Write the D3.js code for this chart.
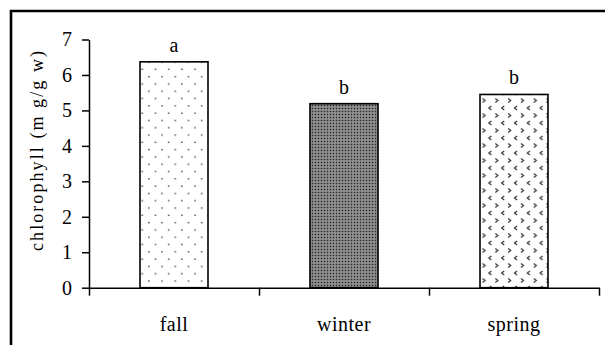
<!DOCTYPE html>
<html>
<head>
    <meta charset="utf-8">
    <script src="https://d3js.org/d3.v7.min.js"></script>
    <style>
        body { margin: 0; background: #fff; }
        svg text { font-family: 'Liberation Serif', 'Times New Roman', Times, 'DejaVu Serif', serif; fill: #000; }
    </style>
</head>
<body>
    <svg id="chart"></svg>
    <script>
        // data
        const seasons = ["fall", "winter", "spring"];
        const chlorophyll = [6.37, 5.19, 5.45];
        const groups = ["a", "b", "b"];
        const yTicks = [0, 1, 2, 3, 4, 5, 6, 7];

        const serif = "'Liberation Serif', 'Times New Roman', Times, 'DejaVu Serif', serif";

        const svg = d3.select('#chart')
            .attr('width', 605)
            .attr('height', 345);

        // patterns for the three bars
        const defs = svg.append('defs');

        const dots = defs.append('pattern')
            .attr('id', 'dots')
            .attr('patternUnits', 'userSpaceOnUse')
            .attr('width', 13.2).attr('height', 14.6);
        dots.append('rect').attr('width', 13.2).attr('height', 14.6).attr('fill', '#fff');
        dots.append('rect').attr('x', 3).attr('y', 3).attr('width', 1.3).attr('height', 1.3).attr('fill', '#222');
        dots.append('rect').attr('x', 9.6).attr('y', 10.3).attr('width', 1.3).attr('height', 1.3).attr('fill', '#222');

        const grey = defs.append('pattern')
            .attr('id', 'grey')
            .attr('patternUnits', 'userSpaceOnUse')
            .attr('width', 3).attr('height', 3);
        grey.append('rect').attr('width', 3).attr('height', 3).attr('fill', '#7a7a7a');
        grey.append('rect').attr('x', 0).attr('y', 0).attr('width', 1).attr('height', 1).attr('fill', '#222');
        grey.append('rect').attr('x', 1.5).attr('y', 1.5).attr('width', 1).attr('height', 1).attr('fill', '#d0d0d0');

        const chev = defs.append('pattern')
            .attr('id', 'chev')
            .attr('patternUnits', 'userSpaceOnUse')
            .attr('width', 12.8).attr('height', 15);
        chev.append('rect').attr('width', 12.8).attr('height', 15).attr('fill', '#fff');
        chev.append('path').attr('d', 'M5,1 L2.5,3 L5,5').attr('fill', 'none').attr('stroke', '#333').attr('stroke-width', 1.2);
        chev.append('path').attr('d', 'M9,8.5 L11.5,10.5 L9,12.5').attr('fill', 'none').attr('stroke', '#333').attr('stroke-width', 1.2);

        const fills = ['url(#dots)', 'url(#grey)', 'url(#chev)'];

        // outer frame (only left and top visible)
        svg.append('path')
            .attr('d', 'M11,345 L11,11 L605,11')
            .attr('fill', 'none')
            .attr('stroke', '#000')
            .attr('stroke-width', 2.6);

        const x = d3.scaleBand().domain(seasons).range([89, 599]).padding(0);
        const xEdge = d3.scaleLinear().domain([0, seasons.length]).range([89, 599]);
        const y = d3.scaleLinear().domain([0, 7]).range([287.7, 39.5]);

        const barW = x.bandwidth() * 0.4;

        // bars
        svg.selectAll('.bar')
            .data(seasons)
            .enter().append('rect')
            .attr('class', 'bar')
            .attr('x', d => x(d) + (x.bandwidth() - barW) / 2)
            .attr('y', (d, i) => y(chlorophyll[i]))
            .attr('width', barW)
            .attr('height', (d, i) => y(0) - y(chlorophyll[i]))
            .attr('fill', (d, i) => fills[i])
            .attr('stroke', '#000')
            .attr('stroke-width', 1.6);

        // group letters
        svg.selectAll('.grp')
            .data(seasons)
            .enter().append('text')
            .attr('x', d => x(d) + x.bandwidth() / 2)
            .attr('y', (d, i) => y(chlorophyll[i]) - 10)
            .attr('text-anchor', 'middle')
            .attr('font-family', serif)
            .attr('font-size', '20px')
            .text((d, i) => groups[i]);

        // y axis
        const yAxis = svg.append('g')
            .attr('transform', 'translate(89,0)')
            .call(d3.axisLeft(y).tickValues(yTicks).tickFormat(d3.format('d'))
                .tickSize(7).tickSizeOuter(0).tickPadding(10));
        yAxis.attr('font-family', serif).attr('font-size', 20);
        yAxis.selectAll('text').attr('font-family', serif).attr('font-size', '20px');
        yAxis.selectAll('line, path').attr('stroke', '#000').attr('stroke-width', 1.5);

        // x axis: ticks at category boundaries, labels at band centres
        const xAxis = svg.append('g')
            .attr('transform', 'translate(0,' + y(0) + ')')
            .call(d3.axisBottom(xEdge).tickValues(d3.range(seasons.length + 1))
                .tickSize(8).tickSizeOuter(0).tickFormat(''));
        xAxis.selectAll('line, path').attr('stroke', '#000').attr('stroke-width', 1.5);

        svg.selectAll('.xlab')
            .data(seasons)
            .enter().append('text')
            .attr('x', d => x(d) + x.bandwidth() / 2)
            .attr('y', 331)
            .attr('text-anchor', 'middle')
            .attr('font-family', serif)
            .attr('font-size', '20px')
            .attr('letter-spacing', '0.5px')
            .text(d => d);

        // y axis title
        svg.append('text')
            .attr('transform', 'translate(43,151) rotate(-90)')
            .attr('text-anchor', 'middle')
            .attr('font-family', serif)
            .attr('font-size', '18px')
            .attr('textLength', 200)
            .attr('lengthAdjust', 'spacing')
            .text('chlorophyll (m g/g w)');
    </script>
</body>
</html>
